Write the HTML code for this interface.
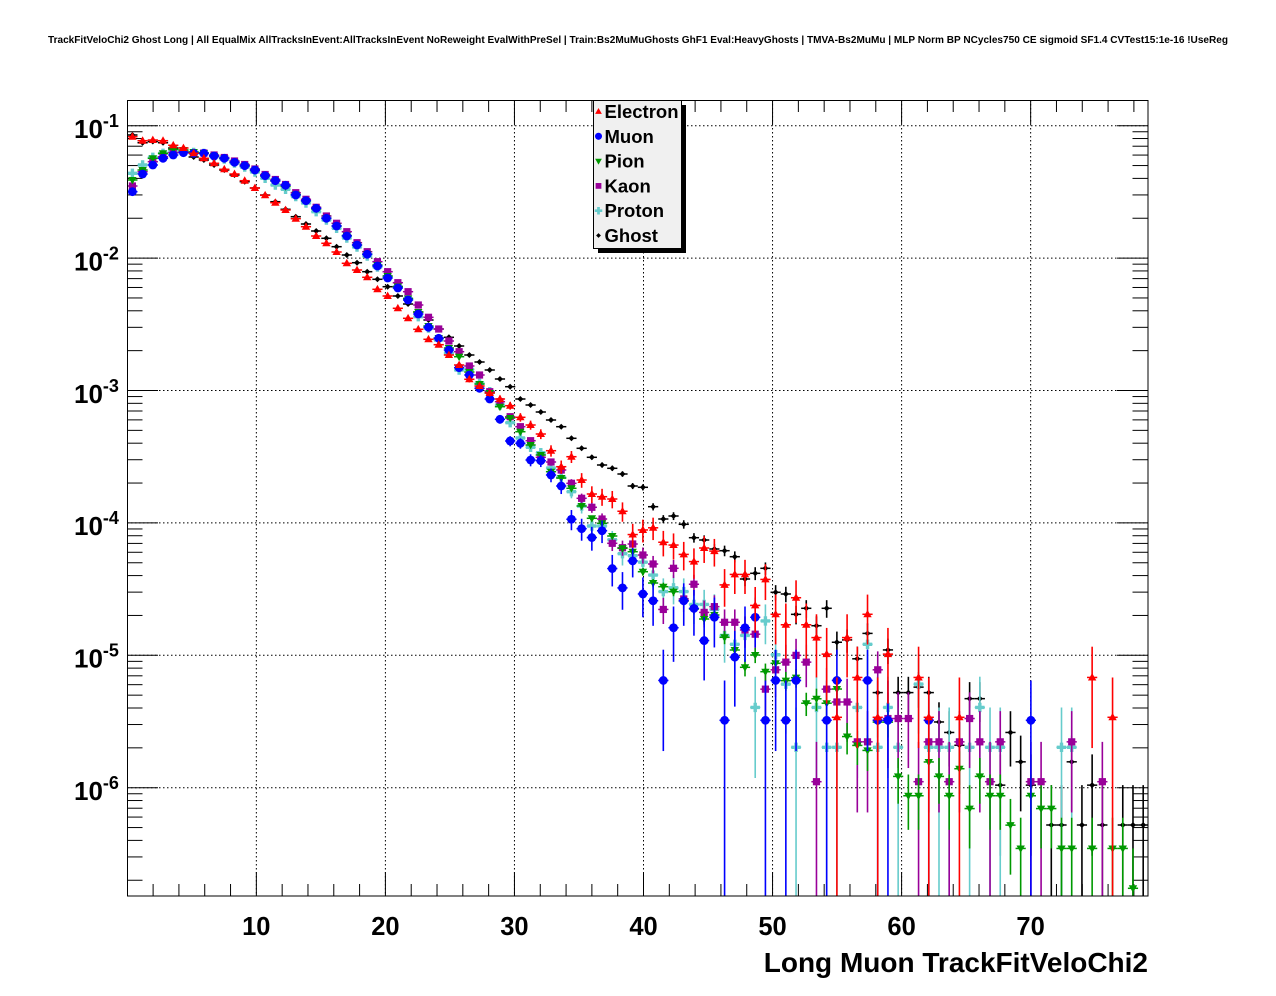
<!DOCTYPE html>
<html><head><meta charset="utf-8">
<style>
html,body{margin:0;padding:0;background:#fff;}
svg{display:block;}
text{font-family:"Liberation Sans",Arial,Helvetica,sans-serif;font-weight:bold;fill:#000;}
</style></head>
<body>
<svg id="c" width="1276" height="996" viewBox="0 0 1276 996" xmlns="http://www.w3.org/2000/svg">
<defs><clipPath id="fr"><rect x="127" y="100" width="1021" height="796"/></clipPath></defs>
<rect width="1276" height="996" fill="#fff"/>
<text x="48" y="43" font-size="10" textLength="1180" lengthAdjust="spacingAndGlyphs">TrackFitVeloChi2 Ghost Long | All EqualMix AllTracksInEvent:AllTracksInEvent NoReweight EvalWithPreSel | Train:Bs2MuMuGhosts GhF1 Eval:HeavyGhosts | TMVA-Bs2MuMu | MLP Norm BP NCycles750 CE sigmoid SF1.4 CVTest15:1e-16 !UseReg</text>
<g id="grid"></g>
<g id="ticks"></g>
<g id="data" clip-path="url(#fr)"></g>
<rect x="127.5" y="100.5" width="1020.5" height="795.5" fill="none" stroke="#000" stroke-width="1"/>
<g id="ylab">
<text x="74" y="138" font-size="26">10<tspan dy="-11" font-size="18">-1</tspan></text>
<text x="74" y="270.4" font-size="26">10<tspan dy="-11" font-size="18">-2</tspan></text>
<text x="74" y="402.8" font-size="26">10<tspan dy="-11" font-size="18">-3</tspan></text>
<text x="74" y="535.2" font-size="26">10<tspan dy="-11" font-size="18">-4</tspan></text>
<text x="74" y="667.6" font-size="26">10<tspan dy="-11" font-size="18">-5</tspan></text>
<text x="74" y="800" font-size="26">10<tspan dy="-11" font-size="18">-6</tspan></text>
</g>
<g>
<text x="256.3" y="935" font-size="25.5" text-anchor="middle">10</text>
<text x="385.4" y="935" font-size="25.5" text-anchor="middle">20</text>
<text x="514.4" y="935" font-size="25.5" text-anchor="middle">30</text>
<text x="643.5" y="935" font-size="25.5" text-anchor="middle">40</text>
<text x="772.5" y="935" font-size="25.5" text-anchor="middle">50</text>
<text x="901.6" y="935" font-size="25.5" text-anchor="middle">60</text>
<text x="1030.6" y="935" font-size="25.5" text-anchor="middle">70</text>
</g>
<text x="1148" y="972" font-size="28" text-anchor="end">Long Muon TrackFitVeloChi2</text>
<g id="legend">
<rect x="598" y="105" width="88" height="148" fill="#000"/>
<rect x="593.5" y="100.5" width="88" height="148" fill="#f0f0f0" stroke="#000" stroke-width="1"/>
<text x="604.5" y="118" font-size="18.5">Electron</text>
<text x="604.5" y="142.8" font-size="18.5">Muon</text>
<text x="604.5" y="167.6" font-size="18.5">Pion</text>
<text x="604.5" y="192.4" font-size="18.5">Kaon</text>
<text x="604.5" y="217.2" font-size="18.5">Proton</text>
<text x="604.5" y="242" font-size="18.5">Ghost</text>
<g id="legm"></g>
</g>
</svg>
<script>
(function(){
var NS="http://www.w3.org/2000/svg";
var X0=132.4, DX=10.21, Y0=125.7, DEC=132.4, FT=100, FB=896, FL=127, FR=1148;
function el(tag,a,p){var e=document.createElementNS(NS,tag);for(var k in a)e.setAttribute(k,a[k]);p.appendChild(e);return e;}
function xv(v){return 127.3+12.905*v;}
function yl(L){return Y0+(-1-L)*DEC;}
var grid=document.getElementById('grid'), ticks=document.getElementById('ticks');
for(var v=10;v<=70;v+=10){var x=xv(v);el('line',{x1:x,y1:FT,x2:x,y2:FB,stroke:'#000','stroke-width':1,'stroke-dasharray':'1.5 2.5'},grid);}
for(var d=-1;d>=-6;d--){var y=yl(d);el('line',{x1:FL,y1:y,x2:FR,y2:y,stroke:'#000','stroke-width':1,'stroke-dasharray':'1.5 2.5'},grid);}
for(var v=2;v<79;v+=2){var x=xv(v);var maj=(v%10===0);var len=maj?24:12;
 el('line',{x1:x,y1:FB,x2:x,y2:FB-len,stroke:'#000','stroke-width':1},ticks);
 el('line',{x1:x,y1:FT,x2:x,y2:FT+len,stroke:'#000','stroke-width':1},ticks);}
for(var d=-7;d<=-1;d++){for(var m=1;m<=9;m++){var L=d+Math.log10(m);if(L< -6.834||L> -0.811)continue;var y=yl(L);var len=(m===1)?31:15.5;
 el('line',{x1:FL,y1:y,x2:FL+len,y2:y,stroke:'#000','stroke-width':1},ticks);
 el('line',{x1:FR,y1:y,x2:FR-len,y2:y,stroke:'#000','stroke-width':1},ticks);}}
function marker(g,t,x,y,c,s){
 s=s||1;
 if(t==='tu'){el('polygon',{points:(x)+','+(y-4.4*s)+' '+(x-4.2*s)+','+(y+3.0*s)+' '+(x+4.2*s)+','+(y+3.0*s),fill:c},g);}
 else if(t==='td'){el('polygon',{points:(x)+','+(y+4.4*s)+' '+(x-4.2*s)+','+(y-3.0*s)+' '+(x+4.2*s)+','+(y-3.0*s),fill:c},g);}
 else if(t==='c'){el('circle',{cx:x,cy:y,r:4.4*s,fill:c},g);}
 else if(t==='sq'){el('rect',{x:x-3.6*s,y:y-3.6*s,width:7.2*s,height:7.2*s,fill:c},g);}
 else if(t==='cr'){var a=4.7*s,b=1.7*s;
   el('path',{d:'M'+(x-b)+','+(y-a)+'H'+(x+b)+'V'+(y-b)+'H'+(x+a)+'V'+(y+b)+'H'+(x+b)+'V'+(y+a)+'H'+(x-b)+'V'+(y+b)+'H'+(x-a)+'V'+(y-b)+'H'+(x-b)+'Z',fill:c},g);}
 else if(t==='dm'){var h=3.0*s;el('polygon',{points:x+','+(y-h)+' '+(x+h)+','+y+' '+x+','+(y+h)+' '+(x-h)+','+y,fill:c},g);}
}
var S={
 red:{c:'#ff0000',m:'tu',y1:717.3,d:[136.7,140.7,140,140.7,145.3,148,153.3,158.3,163.3,169.3,174,180.7,188,195.3,202.7,210,218.7,226.7,236,243.3,252,263.3,270,277.3,289.3,296,308.3,318.3,329.3,339.3,344.7,355,365,379.3,386,393,399,405.7,417.3,425,434,450.7,466.7,456.7,480,494,496.7,499,511.7,535,530.7,528.3,542.7,545.7,555,561.7,548.3,552,585.7,574,574,605,579.3,614,625,598.3,625,637.3,654.3,717.3,637.7,676.7,614,716.7,654,0,0,677.3,717.3,0,0,717.3,0,0,0,0,0,0,0,0,0,0,0,0,677.3,0,717.3,0,0,0]},
 blk:{c:'#000000',m:'dm',y1:825,d:[135,142.7,141.5,142.7,148,152,157,160,165,170,175,181.7,188,195,201.7,209.3,216.7,224,231,238.3,246.7,255,262.7,271.7,279.3,286.7,296,304,312,320,329,337.3,346,355,362,370,379,386.7,399,405,412,420,426.7,438.3,448.3,457.3,465,468.3,474,486,487.3,506.7,519,516,524.3,537.7,540,549,550.7,556.7,579,573.3,568.3,592.3,594,615,608.3,626,608.3,643.3,640,659,634,693.3,650,693.3,693.3,686.7,693.3,721.7,733.3,746,699.3,699.3,0,785,733.3,762.3,785,0,825,825,762.3,825,785.7,825,0,825,825,825]},
 blu:{c:'#0000ff',m:'c',y1:720.3,d:[191.7,174,165,158.3,155,152.7,153.3,153.3,156,158.3,162.3,165.7,170,175.7,180.7,185.3,195,200.7,208.3,218.3,226,236,245,254.3,266,278,288,300,314,327.3,338.3,350,367.7,375,388.3,399,419.3,441,443.3,460,460.7,475,486,520,528.3,536.7,531.7,568.3,587.3,560,593,600,680,627.3,600,608.3,640,616.7,720.3,657.3,627.3,617,720.3,680,720.3,680,0,0,720.3,680,0,0,680,720.3,720.3,0,0,0,720.3,0,0,0,0,0,0,0,0,0,720.3,0,0,0,0,0,0,0,0,0,0,0]},
 pur:{c:'#990099',m:'sq',y1:781.7,d:[186,171.7,161.7,156.7,152.7,151.7,152.7,153,155,157.5,161,164.5,169,174.5,179.5,184.5,192.7,199.3,207.3,216,223.3,231.7,242.7,251.7,261.7,271.7,282.7,291.7,305,317.3,329,341,351.7,366,375,391.7,401.7,416.7,426.7,440.7,457.3,462,470,483.3,498.3,507.3,519,543.3,547.7,544,555,564,609,568.3,598.3,584,611.7,605.7,621.7,621.7,630,634,689,669.3,661.7,655,661.7,781.7,689,701.7,701.7,741.7,741.7,670,717.7,717.7,717.7,781.7,741.7,741.7,781.7,741.7,717.7,741.7,781.7,741.7,0,0,781.7,781.7,0,0,741.7,0,0,781.7,0,0,0,0]},
 cya:{c:'#66cccc',m:'cr',y1:747.3,d:[173.3,165,157.3,153.3,151,151,152.5,153.5,156.5,159,163,167,172,178.3,185,189.3,196.5,203,211.7,220,228.3,238,247,256,267,276.7,287,299,316.7,328,340,353,370,369.3,383.3,391.7,405,422.7,438,447.3,452.7,468,477.3,491.7,506,526,526,540,553.3,555,562.3,574,591.7,587.5,591.7,604,602.7,610,636,643.3,636,706.7,620.7,655,683.3,747.3,0,706.7,747.3,747.3,0,706.7,644,747.3,707.3,747.3,0,683.3,747.3,747.3,747.3,0,747.3,707.3,747.3,747.3,0,0,0,0,0,747.3,747.3,0,0,0,0,0,0,0]},
 grn:{c:'#009900',m:'td',y1:888.3,d:[180,170,158.3,153.3,149.3,150,152,153,156,158.5,162.5,166,170.5,176,181,186.5,194.5,201,209,218,226,235.5,245,254,265,276,286.5,298.5,312,326,338,348,356.7,372,384,393,406.7,418,431.7,445,455,471.7,478,488.3,506,518.3,523.3,536,548.3,551.7,571.7,583,586.7,591.7,601,609,619,615,637.3,650,667.3,655,671.7,663.3,680,677.3,704,699.3,704,689.3,736.7,745,750.7,723.3,723.3,776.7,796.7,796.7,762.7,776.7,796.7,769.3,808.3,776.7,796.7,796.7,825.7,848.3,796.7,808.3,808.3,848.3,848.3,0,848.3,0,848.3,848.3,888.3,0]}
};
var order=['blk','cya','pur','grn','blu','red'];
var data=document.getElementById('data');
order.forEach(function(key){
 var s=S[key];var g=el('g',{},data);
 for(var k=0;k<s.d.length;k++){
  var y=s.d[k];if(!y)continue;
  var N=Math.pow(10,(s.y1-y)/DEC);
  if(N<40){N=Math.max(1,Math.round(N));y=s.y1-DEC*Math.log10(N);}
  var e=1/Math.sqrt(N);
  var yu=y-DEC*Math.log10(1+e);
  var yd=(e>=0.999)?FB+2:y-DEC*Math.log10(1-e);
  if(yu<FT)yu=FT;if(yd>FB+2)yd=FB+2;
  var x=X0+DX*k;
  if(yd-yu>1)el('line',{x1:x,y1:yu,x2:x,y2:yd,stroke:s.c,'stroke-width':1.6},g);
  el('line',{x1:x-5.1,y1:y,x2:x+5.1,y2:y,stroke:s.c,'stroke-width':1.5},g);
  marker(g,s.m,x,y,s.c,1);
 }
});
var lg=document.getElementById('legm');
var lm=[['tu','#ff0000'],['c','#0000ff'],['td','#009900'],['sq','#990099'],['cr','#66cccc'],['dm','#000000']];
for(var i=0;i<6;i++){marker(lg,lm[i][0],598.5,111.5+24.8*i,lm[i][1],0.8);}
})();
</script>
</body></html>
